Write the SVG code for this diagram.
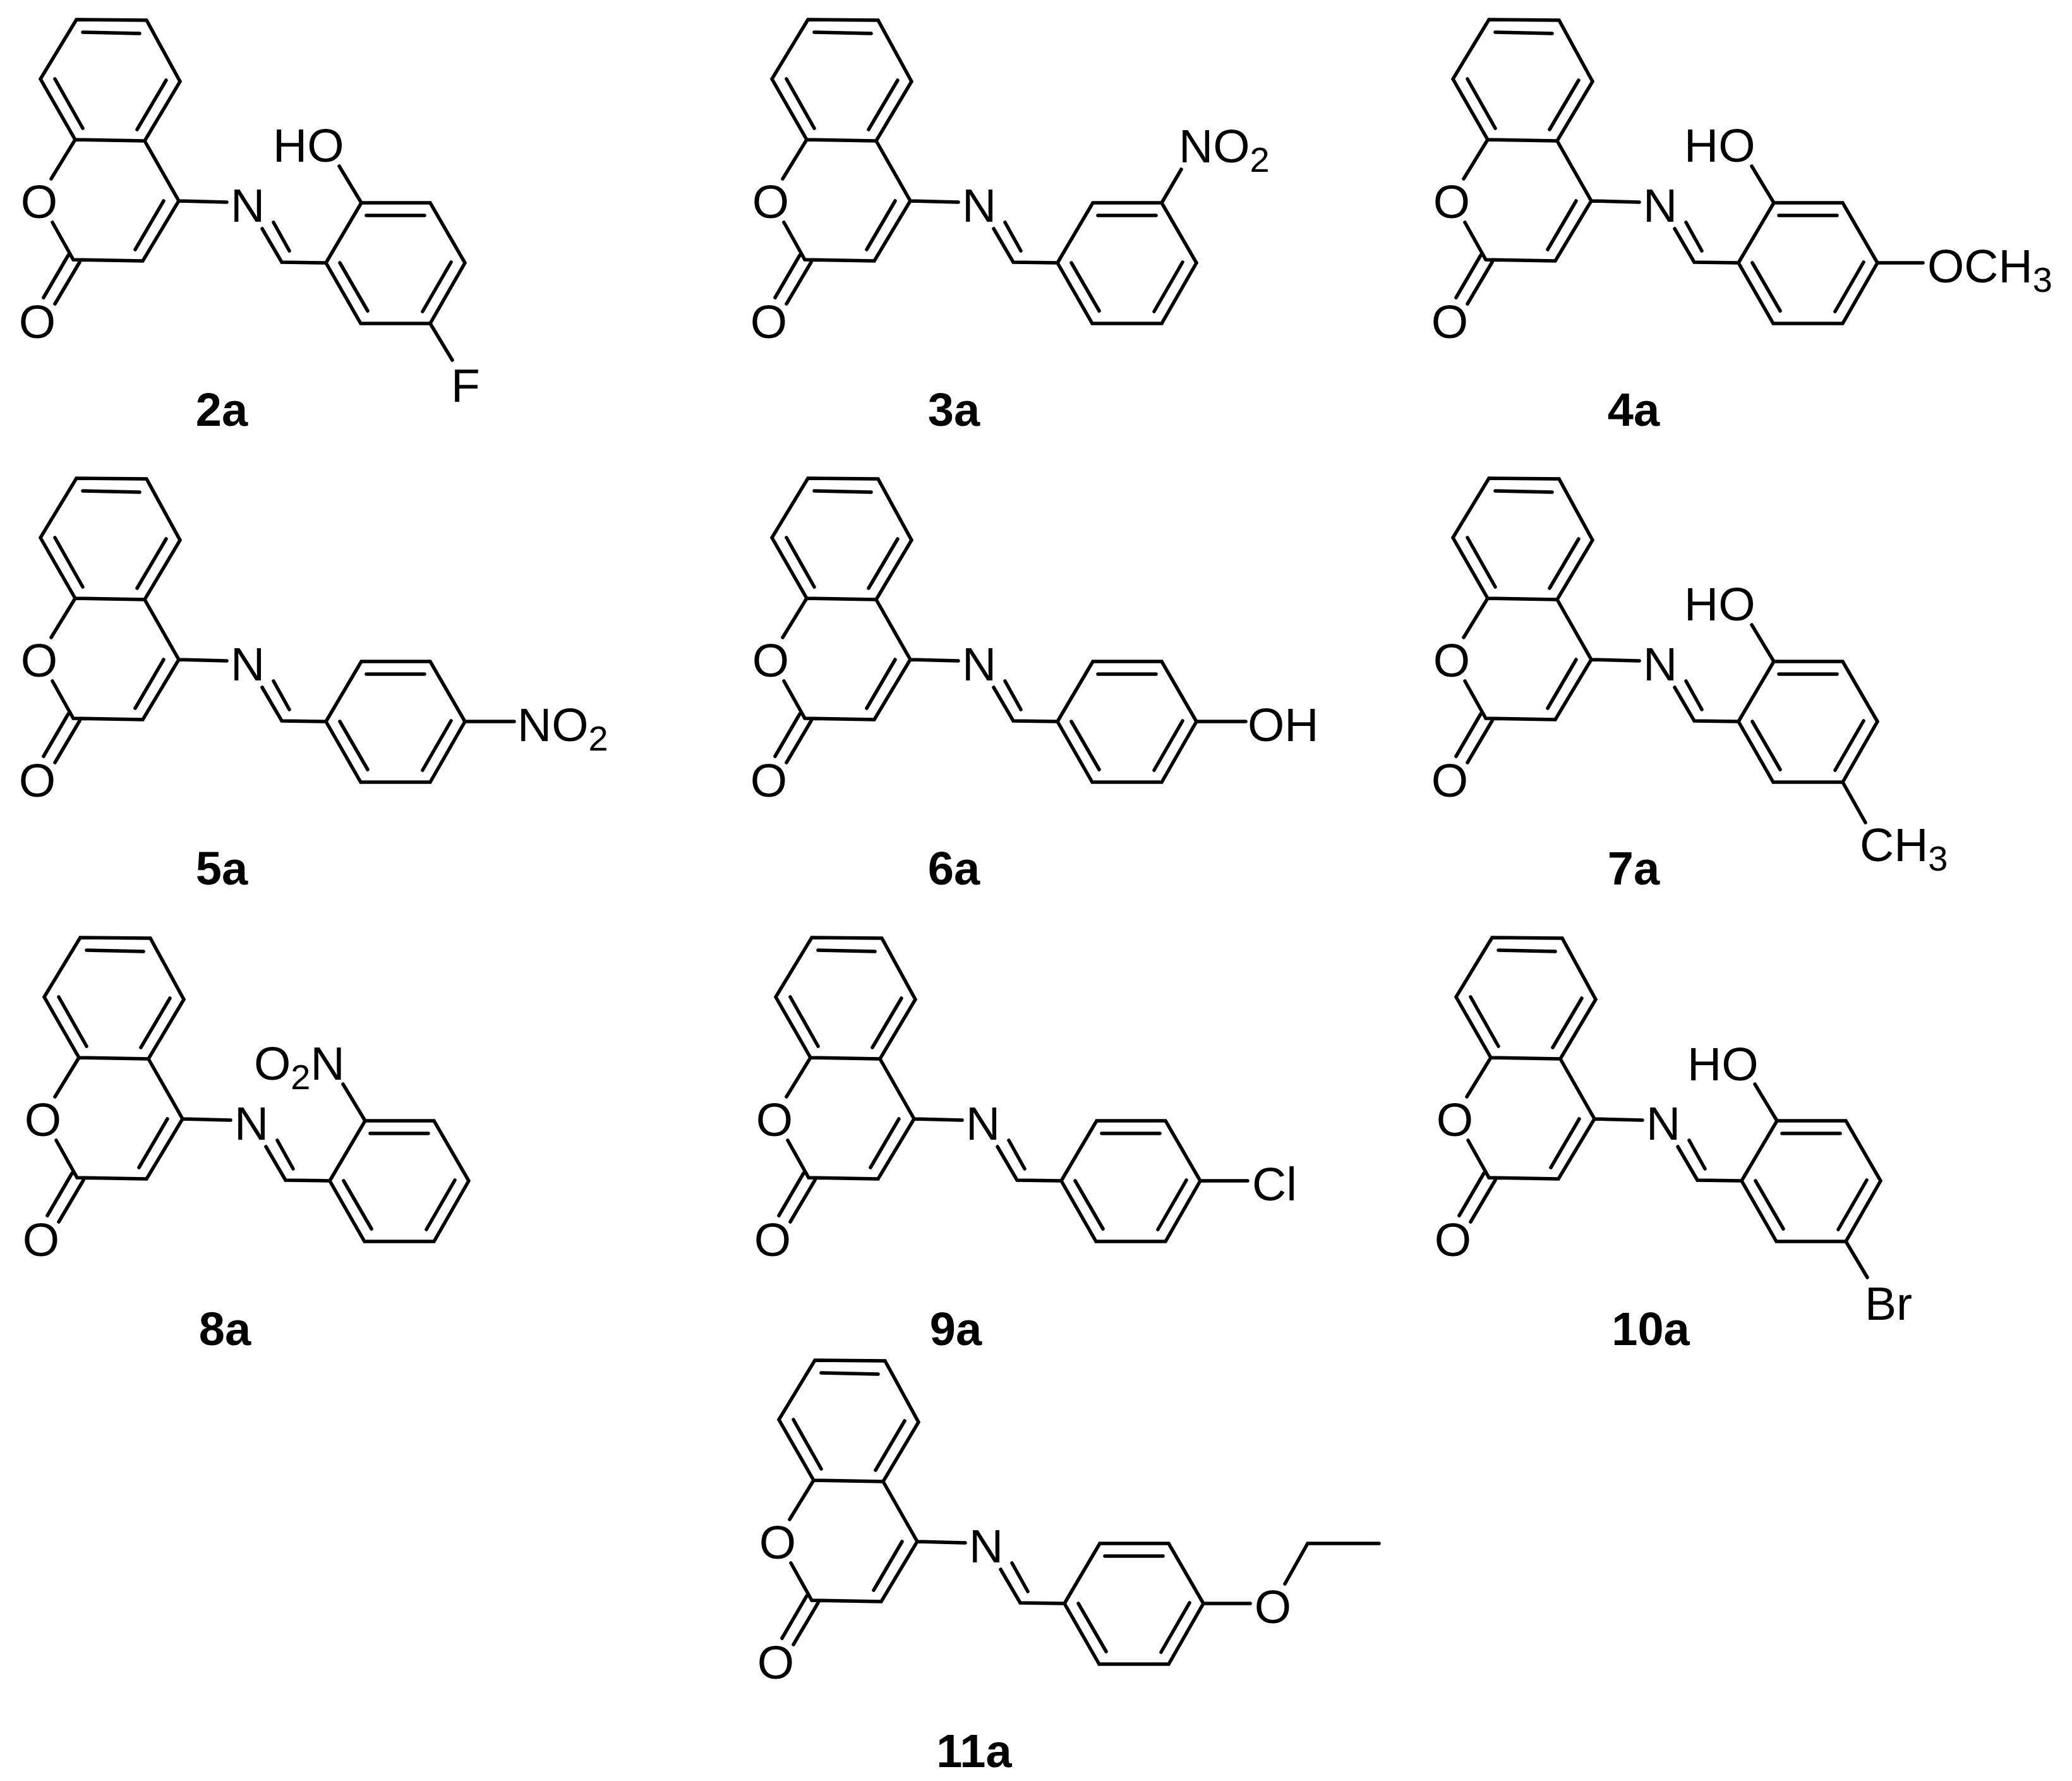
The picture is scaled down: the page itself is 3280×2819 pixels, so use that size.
<svg xmlns="http://www.w3.org/2000/svg" width="3280" height="2819" viewBox="0 0 3280 2819">
<style>
.b{fill:none;stroke:#000;stroke-width:5.5;stroke-linecap:round;stroke-linejoin:miter}
text{font-family:"Liberation Sans",Arial,sans-serif;font-size:75px;fill:#000}
.c{text-anchor:middle}
.l{font-weight:bold;text-anchor:middle;font-size:74px}
.s{font-size:56px}
</style>
<defs>
<path id="core" class="b" d="M121 31L232 32L285 129L229 223L119 221L64 125ZM131 51L221 53M87 125L131 203M263 127L217 205M119 221L81 283M83 352L116 411L226 413L283 318L229 223M259 318L214 395M108 404L69 471M126 415L87 481M283 318L359 320M415 362L446 415L516 416M433 352L458 397M516 416L572 321L681 321L736 416L681 512L571 512ZM580 341L672 341M538 416L582 492M714 415L669 493"/>
<path id="ho" class="b" d="M537 263L572 321"/>
</defs>
<g id="connectors">
<use href="#core"/>
<use href="#core" x="1158"/>
<use href="#core" x="2236"/>
<use href="#core" y="726"/>
<use href="#core" x="1158" y="726"/>
<use href="#core" x="2236" y="726"/>
<use href="#core" x="6" y="1453"/>
<use href="#core" x="1164" y="1453"/>
<use href="#core" x="2241" y="1453"/>
<use href="#core" x="1169" y="2122"/>
</g>
<g id="m2a">
<use href="#ho"/><path class="b" d="M681 512L716 570"/>
<text class="c" x="62" y="345">O</text><text class="c" x="59" y="535">O</text><text class="c" x="392" y="351">N</text>
<text x="432" y="256">HO</text><text x="714" y="636">F</text><text class="l" x="351" y="674">2a</text>
</g>
<g id="m3a" transform="translate(1158 0)">
<path class="b" d="M681 321L712 268"/>
<text class="c" x="62" y="345">O</text><text class="c" x="59" y="535">O</text><text class="c" x="392" y="351">N</text>
<text x="708" y="257">NO<tspan class="s" dy="15">2</tspan></text><text class="l" x="352" y="674">3a</text>
</g>
<g id="m4a" transform="translate(2236 0)">
<use href="#ho"/><path class="b" d="M736 416L808 416"/>
<text class="c" x="62" y="345">O</text><text class="c" x="59" y="535">O</text><text class="c" x="392" y="351">N</text>
<text x="430" y="256">HO</text><text x="815" y="447">OCH<tspan class="s" dy="15">3</tspan></text><text class="l" x="350" y="674">4a</text>
</g>
<g id="m5a" transform="translate(0 726)">
<path class="b" d="M736 416L814 416"/>
<text class="c" x="62" y="345">O</text><text class="c" x="59" y="535">O</text><text class="c" x="392" y="351">N</text>
<text x="819" y="447">NO<tspan class="s" dy="15">2</tspan></text><text class="l" x="351" y="674">5a</text>
</g>
<g id="m6a" transform="translate(1158 726)">
<path class="b" d="M736 416L814 416"/>
<text class="c" x="62" y="345">O</text><text class="c" x="59" y="535">O</text><text class="c" x="392" y="351">N</text>
<text x="817" y="447">OH</text><text class="l" x="352" y="674">6a</text>
</g>
<g id="m7a" transform="translate(2236 726)">
<use href="#ho"/><path class="b" d="M681 512L717 576"/>
<text class="c" x="62" y="345">O</text><text class="c" x="59" y="535">O</text><text class="c" x="392" y="351">N</text>
<text x="430" y="256">HO</text><text x="708" y="637">CH<tspan class="s" dy="15">3</tspan></text><text class="l" x="350" y="674">7a</text>
</g>
<g id="m8a" transform="translate(6 1453)">
<use href="#ho"/>
<text class="c" x="62" y="345">O</text><text class="c" x="59" y="535">O</text><text class="c" x="392" y="351">N</text>
<text x="396" y="256">O<tspan class="s" dy="15">2</tspan><tspan dy="-15">N</tspan></text><text class="l" x="350" y="676">8a</text>
</g>
<g id="m9a" transform="translate(1164 1453)">
<path class="b" d="M736 416L811 416"/>
<text class="c" x="62" y="345">O</text><text class="c" x="59" y="535">O</text><text class="c" x="392" y="351">N</text>
<text x="818" y="447">Cl</text><text class="l" x="349" y="676">9a</text>
</g>
<g id="m10a" transform="translate(2241 1453)">
<use href="#ho"/><path class="b" d="M681 512L715 569"/>
<text class="c" x="62" y="345">O</text><text class="c" x="59" y="535">O</text><text class="c" x="392" y="351">N</text>
<text x="430" y="257">HO</text><text x="711" y="636">Br</text><text class="l" x="372" y="676">10a</text>
</g>
<g id="m11a" transform="translate(1169 2122)">
<path class="b" d="M736 416L810 416M865 385L901 321L1014 321"/>
<text class="c" x="62" y="345">O</text><text class="c" x="59" y="535">O</text><text class="c" x="392" y="351">N</text>
<text class="c" x="846" y="447">O</text><text class="l" x="373" y="675">11a</text>
</g>
</svg>
